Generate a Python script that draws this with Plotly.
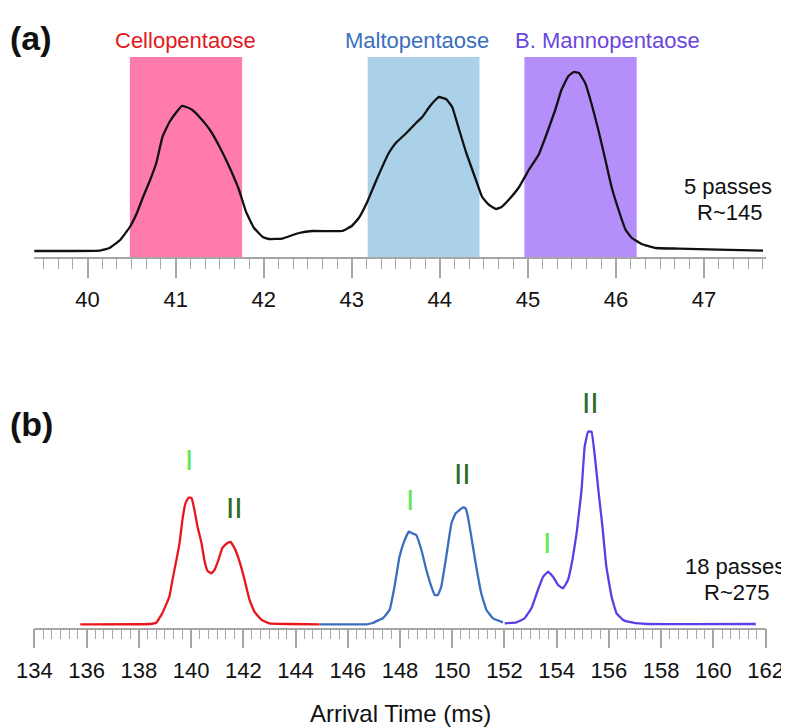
import plotly.graph_objects as go

# ---------------- Panel (a) data: 5 passes ----------------
a_time = [39.39, 40.14, 40.25, 40.37, 40.48, 40.56, 40.63, 40.71, 40.78, 40.85,
          40.93, 41.01, 41.07, 41.12, 41.19, 41.27, 41.39, 41.50, 41.61, 41.72,
          41.80, 41.89, 41.99, 42.06, 42.21, 42.33, 42.40, 42.55, 42.74, 42.89,
          43.00, 43.08, 43.17, 43.28, 43.42, 43.50, 43.62, 43.73, 43.80, 43.88,
          43.96, 43.99, 44.07, 44.14, 44.22, 44.30, 44.41, 44.48, 44.56, 44.64,
          44.70, 44.78, 44.90, 45.01, 45.12, 45.20, 45.31, 45.38, 45.46, 45.52,
          45.58, 45.65, 45.72, 45.80, 45.88, 45.95, 46.03, 46.11, 46.18, 46.29,
          46.45, 46.71, 47.16, 47.67]
a_int = [0.030, 0.032, 0.045, 0.085, 0.150, 0.220, 0.300, 0.385, 0.470, 0.600,
         0.675, 0.725, 0.755, 0.750, 0.735, 0.700, 0.635, 0.550, 0.450, 0.335,
         0.225, 0.145, 0.100, 0.090, 0.092, 0.110, 0.120, 0.130, 0.129, 0.130,
         0.155, 0.195, 0.270, 0.385, 0.520, 0.570, 0.620, 0.670, 0.700, 0.750,
         0.790, 0.800, 0.790, 0.750, 0.635, 0.520, 0.385, 0.300, 0.260, 0.240,
         0.250, 0.285, 0.350, 0.435, 0.510, 0.600, 0.735, 0.835, 0.905, 0.925,
         0.920, 0.870, 0.770, 0.635, 0.485, 0.350, 0.235, 0.135, 0.095, 0.065,
         0.045, 0.042, 0.037, 0.032]

# selection windows (start, end) in ms
window_names = ["Cellopentaose", "Maltopentaose", "B. Mannopentaose"]
window_start = [40.48, 43.18, 44.96]
window_end = [41.755, 44.45, 46.235]

# ---------------- Panel (b) data: 18 passes ----------------
cello_time = [135.76, 138.41, 138.67, 138.90, 139.17, 139.29, 139.44, 139.56, 139.67,
              139.79, 139.90, 140.02, 140.13, 140.25, 140.40, 140.51, 140.63, 140.78,
              140.90, 141.05, 141.20, 141.39, 141.51, 141.66, 141.85, 142.05, 142.24,
              142.43, 142.70, 143.00, 143.77, 144.92]
cello_int = [0.017, 0.0185, 0.025, 0.072, 0.155, 0.239, 0.339, 0.423, 0.539,
             0.623, 0.650, 0.649, 0.589, 0.504, 0.424, 0.339, 0.284, 0.272,
             0.289, 0.339, 0.399, 0.424, 0.429, 0.399, 0.334, 0.239, 0.139,
             0.079, 0.039, 0.022, 0.0185, 0.017]

malto_time = [144.92, 146.72, 146.95, 147.22, 147.34, 147.60, 147.79, 147.98, 148.18,
              148.34, 148.47, 148.62, 148.82, 149.01, 149.20, 149.33, 149.45, 149.58,
              149.77, 149.97, 150.13, 150.28, 150.41, 150.51, 150.60, 150.73, 150.92,
              151.11, 151.31, 151.56, 151.94]
malto_int = [0.017, 0.017, 0.0235, 0.040, 0.047, 0.0885, 0.205, 0.355, 0.4385,
             0.480, 0.472, 0.4635, 0.3885, 0.2885, 0.205, 0.1635, 0.1635, 0.205,
             0.355, 0.522, 0.572, 0.5885, 0.602, 0.597, 0.555, 0.455, 0.305,
             0.172, 0.0885, 0.047, 0.027]

manno_time = [152.01, 152.46, 152.77, 153.03, 153.28, 153.48, 153.67, 153.86, 154.05,
              154.24, 154.43, 154.60, 154.76, 154.95, 155.07, 155.20, 155.33, 155.46,
              155.58, 155.75, 155.90, 156.10, 156.29, 156.54, 156.92, 157.44, 161.62]
manno_int = [0.022, 0.027, 0.047, 0.097, 0.1885, 0.255, 0.280, 0.255, 0.2135,
             0.197, 0.2385, 0.3385, 0.472, 0.6885, 0.905, 0.980, 0.980, 0.855,
             0.705, 0.505, 0.305, 0.155, 0.072, 0.0385, 0.025, 0.0185, 0.0185]

FONT = "Liberation Sans, Arial, sans-serif"
AXIS_GREY = "#A6A6A6"

# the page body adds an 8px margin; size the figure so it fits the window
OFF = 8
W, H = 789 - OFF, 727 - OFF
def px(xp):
    return (xp - OFF) / W
def py(yp):
    return 1 - (yp - OFF) / H

fig = go.Figure()

LINE_SHAPE = dict(shape="spline", smoothing=0.3)

fig.add_trace(go.Scatter(x=a_time, y=a_int, mode="lines",
                         line=dict(color="#111111", width=2.3, **LINE_SHAPE),
                         xaxis="x", yaxis="y", showlegend=False, hoverinfo="skip"))

fig.add_trace(go.Scatter(x=cello_time, y=cello_int, mode="lines",
                         line=dict(color="#E8161C", width=2.3, **LINE_SHAPE),
                         xaxis="x2", yaxis="y2", showlegend=False))
fig.add_trace(go.Scatter(x=malto_time, y=malto_int, mode="lines",
                         line=dict(color="#3A6FBF", width=2.3, **LINE_SHAPE),
                         xaxis="x2", yaxis="y2", showlegend=False))
fig.add_trace(go.Scatter(x=manno_time, y=manno_int, mode="lines",
                         line=dict(color="#5B3FE6", width=2.3, **LINE_SHAPE),
                         xaxis="x2", yaxis="y2", showlegend=False))

rect_colors = ["#FF7BAC", "#ABD1E8", "#B48FFA"]
for s, e, c in zip(window_start, window_end, rect_colors):
    fig.add_shape(type="rect", xref="x", yref="y", x0=s, x1=e, y0=0, y1=1,
                  fillcolor=c, line=dict(width=0), layer="below")

xdom = [px(34.3), px(765.7)]
common_axis = dict(showline=True, linecolor=AXIS_GREY, linewidth=1.5,
                   ticks="outside", ticklen=19, tickwidth=1.5, tickcolor=AXIS_GREY,
                   showgrid=False, zeroline=False, automargin=False,
                   ticklabelstandoff=3,
                   tickfont=dict(family=FONT, size=22, color="#111111"))

fig.update_layout(
    width=W, height=H,
    margin=dict(l=0, r=0, t=0, b=0, autoexpand=False),
    paper_bgcolor="white", plot_bgcolor="white",
    xaxis=dict(domain=xdom, range=[39.395, 47.70], anchor="y",
               tick0=40, dtick=1,
               minor=dict(dtick=1/6, tick0=40, ticks="outside", ticklen=10,
                          tickwidth=1.2, tickcolor=AXIS_GREY),
               **common_axis),
    yaxis=dict(domain=[py(257), py(37)], range=[0, 1.1], visible=False),
    xaxis2=dict(domain=xdom, range=[134, 162], anchor="y2",
                tick0=134, dtick=2,
                minor=dict(dtick=1/3, tick0=134, ticks="outside", ticklen=10,
                           tickwidth=1.2, tickcolor=AXIS_GREY),
                **common_axis),
    yaxis2=dict(domain=[py(627.7), py(387.7)], range=[0, 1.2], visible=False),
)

ann = []
def paper_text(text, xpx, ypx, size=22, color="#111111", bold=False, xanchor="center"):
    ann.append(dict(text=("<b>%s</b>" % text) if bold else text,
                    x=px(xpx), y=py(ypx), xref="paper", yref="paper",
                    xanchor=xanchor, yanchor="middle", showarrow=False,
                    font=dict(family=FONT, size=size, color=color)))

paper_text("(a)", 8, 38, size=34, bold=True, xanchor="left")
paper_text("(b)", 8, 424, size=34, bold=True, xanchor="left")
paper_text("Cellopentaose", 185, 40, color="#E0191C")
paper_text("Maltopentaose", 417, 40, color="#3A6FC0")
paper_text("B. Mannopentaose", 607.5, 40, color="#6A45E0")
paper_text("5 passes", 728, 187)
paper_text("R~145", 729, 213)
paper_text("18 passes", 735, 566)
paper_text("R~275", 736, 592)
paper_text("Arrival Time (ms)", 400, 713, size=24)

LIGHT_G = "#62E65A"
DARK_G = "#2B6A2B"
peak_labels = [("I", 139.94, 0.84, LIGHT_G), ("II", 141.66, 0.60, DARK_G),
               ("I", 148.39, 0.64, LIGHT_G), ("II", 150.39, 0.77, DARK_G),
               ("I", 153.64, 0.425, LIGHT_G), ("II", 155.29, 1.125, DARK_G)]
for t, x, y, c in peak_labels:
    ann.append(dict(text=t, x=x, y=y, xref="x2", yref="y2", showarrow=False,
                    xanchor="center", yanchor="middle",
                    font=dict(family=FONT, size=30, color=c)))

fig.update_layout(annotations=ann)

fig.write_html("out.html")
